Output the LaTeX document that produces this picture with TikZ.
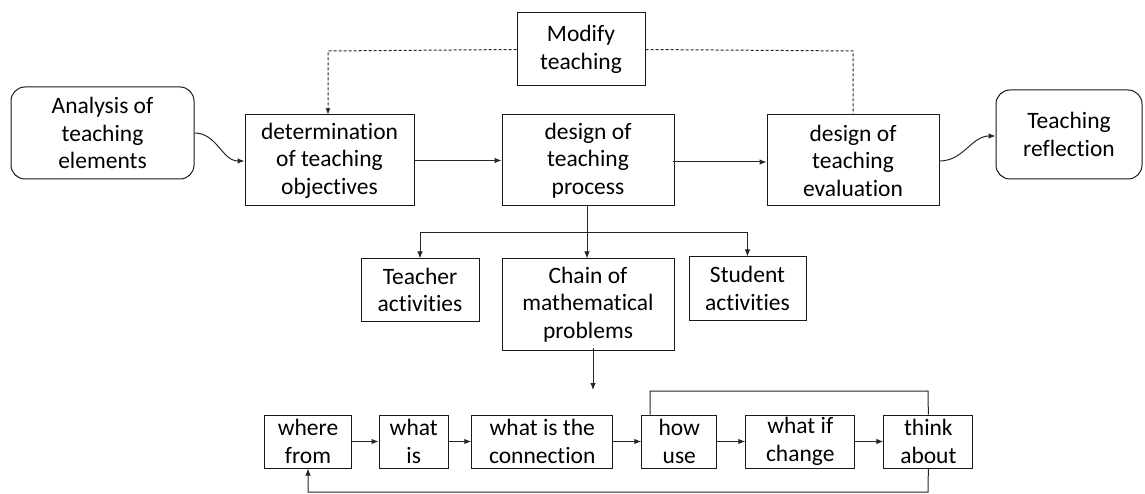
\documentclass[tikz,border=0pt]{standalone}
\usepackage{fontspec}
\setmainfont{Carlito}[Ligatures=NoCommon]
\usetikzlibrary{arrows.meta}
\begin{document}
\begin{tikzpicture}[x=1pt,y=-1pt,
  box/.style={draw=black!90, line width=1pt, align=center, inner sep=0pt,
    font=\fontsize{23.5}{27.5}\selectfont},
  rbox/.style={box, rounded corners=14pt},
  conn/.style={draw=black!85, line width=1pt},
  arr/.style={conn, -{Latex[length=7pt,width=5.5pt]}},
  dsh/.style={conn, dash pattern=on 3pt off 2pt}
]
\useasboundingbox (0,0) rectangle (1145,494);
% top row
\node[rbox, minimum width=183pt, minimum height=92pt] (ana) at (102.5,133) {Analysis of\\teaching\\elements};
\node[box, minimum width=169pt, minimum height=91pt] (det) at (329.5,160.5) {determination\\of teaching\\objectives};
\node[box, minimum width=172pt, minimum height=91pt] (proc) at (588,160.5) {design of\\teaching\\process};
\node[box, minimum width=172pt, minimum height=91pt] (eval) at (853,160.5) {design of\\teaching\\evaluation};
\node[rbox, minimum width=146pt, minimum height=89pt] (refl) at (1069,134.5) {Teaching\\reflection};
\node[box, minimum width=128pt, minimum height=73pt] (mod) at (581,49.5) {Modify\\teaching};
% middle row
\node[box, minimum width=118pt, minimum height=62pt] (teach) at (420,290) {Teacher\\activities};
\node[box, minimum width=172pt, minimum height=91pt] (chain) at (588,304.5) {Chain of\\mathematical\\problems};
\node[box, minimum width=117pt, minimum height=63pt] (stud) at (747.5,288.5) {Student\\activities};
% bottom row
\node[box, minimum width=87pt, minimum height=53pt] (where) at (308,441.5) {where\\from};
\node[box, minimum width=69.5pt, minimum height=53pt] (whatis) at (413.75,441.5) {what\\is};
\node[box, minimum width=141pt, minimum height=53pt] (connx) at (542.25,441.5) {what is the\\connection};
\node[box, minimum width=75pt, minimum height=53pt] (how) at (679.3,441.5) {how\\use};
\node[box, minimum width=109pt, minimum height=53pt] (whatif) at (800.25,441.5) {what if\\change};
\node[box, minimum width=89pt, minimum height=53pt] (think) at (928.35,441.5) {think\\about};
% coordinates
\coordinate (dl) at (328,51);
\coordinate (dr) at (853,51);
\coordinate (br) at (587,233);
\coordinate (chainend) at (593,390);
\coordinate (looptop) at (928,391);
\coordinate (loopbot) at (928,492);
% connectors top
\draw[arr] (ana.east) to[out=0,in=180] ([yshift=-0.5pt]det.west);
\draw[arr] (det.east) -- (proc.west);
\draw[arr] ([xshift=-2pt,yshift=-1.5pt]proc.east) -- ([yshift=-1.5pt]eval.west);
\draw[arr] ([yshift=-0.5pt]eval.east) to[out=0,in=180] ([yshift=-1.5pt]refl.west);
\draw[dsh, -{Latex[length=6pt,width=5pt]}] (mod.west) -- (dl) -- (det.north -| dl);
\draw[dsh] (mod.east) -- (dr) -- (eval.north);
% branching
\draw[conn] (proc.south -| br) -- (br);
\draw[conn] (br) -- (br -| teach.north);
\draw[conn] (br) -- (br -| stud.north);
\draw[arr] (br -| teach.north) -- (teach.north);
\draw[arr] (br) -- (chain.north -| br);
\draw[arr] (br -| stud.north) -- (stud.north);
\draw[arr] ([yshift=3pt]chain.south -| chainend) -- (chainend);
% chain
\draw[arr] (where) -- (whatis);
\draw[arr] (whatis) -- (connx);
\draw[arr] (connx) -- (how);
\draw[arr] (how) -- (whatif);
\draw[arr] (whatif) -- (think);
\draw[conn] (think.north) -- (looptop) -- (looptop -| 650,0) -- (how.north -| 650,0);
\draw[arr] (think.south) -- (loopbot) -- (loopbot -| where.south) -- (where.south);
\end{tikzpicture}
\end{document}
